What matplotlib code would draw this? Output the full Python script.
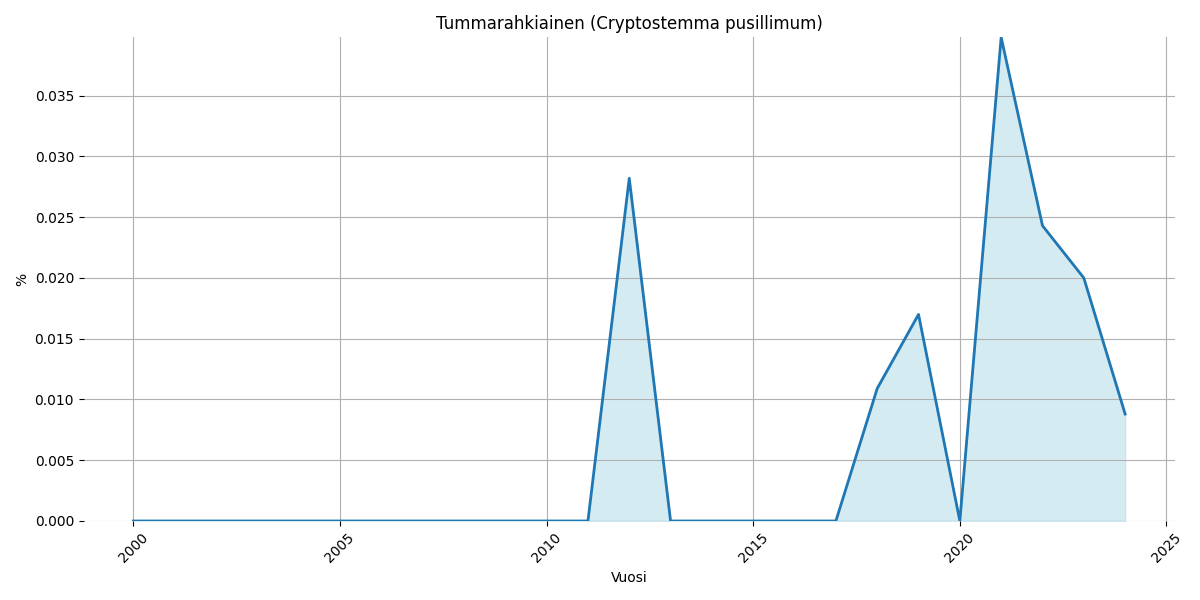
import numpy as np
import matplotlib
matplotlib.use("Agg")
import matplotlib.pyplot as plt

years = list(range(2000, 2025))
values = [0, 0, 0, 0, 0, 0, 0, 0, 0, 0, 0, 0,
          0.0282, 0, 0, 0, 0, 0,
          0.0109, 0.0170, 0, 0.0398, 0.0243, 0.0200, 0.0088]

fig, ax = plt.subplots(figsize=(12, 6), dpi=100)
ax.plot(years, values, color="#1f77b4", linewidth=2)
ax.fill_between(years, values, color="lightblue", alpha=0.5)
ax.set_ylim(0, max(values))
ax.set_title("Tummarahkiainen (Cryptostemma pusillimum)")
ax.set_xlabel("Vuosi")
ax.set_ylabel("%")
ax.grid(True)
for s in ax.spines.values():
    s.set_visible(False)
plt.xticks(rotation=45)
plt.tight_layout()
plt.savefig("out.png")
